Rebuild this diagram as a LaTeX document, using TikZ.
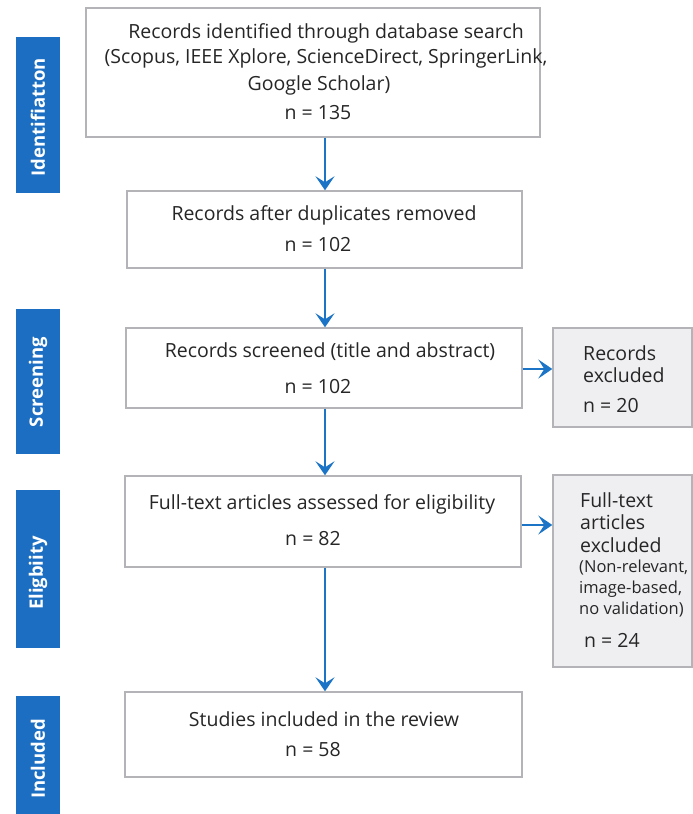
\documentclass[tikz,border=0pt]{standalone}
\usepackage{fontspec}
\setmainfont{Open Sans}
\usetikzlibrary{arrows.meta}
\definecolor{barblue}{HTML}{1B6EC2}
\definecolor{arrblue}{HTML}{1C74C6}
\definecolor{boxgray}{HTML}{B4B4B8}
\definecolor{exfill}{HTML}{EFEFF2}
\definecolor{txt}{HTML}{262626}
\begin{document}
\begin{tikzpicture}[x=1pt,y=-1pt,
  phasebar/.style={fill=barblue, draw=none, minimum width=44pt, inner sep=0pt},
  phasetext/.style={text=white, font=\fontsize{18.5}{22}\selectfont\bfseries, rotate=90},
  mainbox/.style={draw=boxgray, line width=1.4pt, fill=white, inner sep=0pt},
  exbox/.style={draw=boxgray, line width=1.4pt, fill=exfill, inner sep=0pt},
  bodytext/.style={text=txt, font=\fontsize{19.5}{23}\selectfont, inner sep=0pt},
  smalltext/.style={text=txt, font=\fontsize{16.5}{20}\selectfont, inner sep=0pt},
  flow/.style={draw=arrblue, line width=2.4pt, -{Stealth[length=14pt,width=19pt,inset=6pt]}}
]
\useasboundingbox (0,0) rectangle (693,814);
\fill[white] (0,0) rectangle (693,814);

% phase bars
\node[phasebar, minimum height=156pt] (pid) at (38,115) {};
\node[phasetext] (tid) at (38,117) {Identifiatton};
\node[phasebar, minimum height=145pt] (psc) at (38,381.5) {};
\node[phasetext] (tsc) at (38,382) {Screening};
\node[phasebar, minimum height=158pt] (pel) at (38,569) {};
\node[phasetext] (tel) at (38,573) {Eligbiity};
\node[phasebar, minimum height=124pt] (pin) at (38,758) {};
\node[phasetext] (tin) at (38,759) {Included};

% main boxes
\node[mainbox, minimum width=454pt, minimum height=129pt] (b1) at (313,72.5) {};
\node[mainbox, minimum width=395pt, minimum height=77pt] (b2) at (324.5,229.5) {};
\node[mainbox, minimum width=396pt, minimum height=80pt] (b3) at (324,368) {};
\node[mainbox, minimum width=396pt, minimum height=91pt] (b4) at (323,521.5) {};
\node[mainbox, minimum width=397pt, minimum height=85pt] (b5) at (323.5,734.5) {};

% exclusion boxes
\node[exbox, minimum width=139pt, minimum height=99pt] (r1) at (622.5,377.5) {};
\node[exbox, minimum width=139pt, minimum height=192pt] (r2) at (622.5,571) {};

% texts in main boxes
\node[bodytext] (t1a) at (326,33) {Records identified through database search};
\node[bodytext] (t1b) at (326,58) {(Scopus, IEEE Xplore, ScienceDirect, SpringerLink,};
\node[bodytext] (t1c) at (319,85) {Google Scholar)};
\node[bodytext] (t1d) at (318,113) {n = 135};
\node[bodytext] (t2a) at (324,215) {Records after duplicates removed};
\node[bodytext] (t2b) at (318,245) {n = 102};
\node[bodytext] (t3a) at (330,352) {Records screened (title and abstract)};
\node[bodytext] (t3b) at (318,387) {n = 102};
\node[bodytext] (t4a) at (322,504) {Full-text articles assessed for eligibility};
\node[bodytext] (t4b) at (313,539) {n = 82};
\node[bodytext] (t5a) at (324,719) {Studies included in the review};
\node[bodytext] (t5b) at (313,750) {n = 58};

% texts in exclusion boxes
\node[bodytext, anchor=west] (r1a) at (583,353) {Records};
\node[bodytext, anchor=west] (r1b) at (583,375) {excluded};
\node[bodytext, anchor=west] (r1c) at (583,406) {n = 20};
\node[bodytext, anchor=west] (r2a) at (580,500) {Full-text};
\node[bodytext, anchor=west] (r2b) at (580,522) {articles};
\node[bodytext, anchor=west] (r2c) at (580,545) {excluded};
\node[smalltext, anchor=west] (r2d) at (579,568) {(Non-relevant,};
\node[smalltext, anchor=west] (r2e) at (579,589) {image-based,};
\node[smalltext, anchor=west] (r2f) at (579,610) {no validation)};
\node[bodytext, anchor=west] (r2g) at (584,640) {n = 24};

% connectors
\coordinate (ax) at (325,0);
\draw[flow] (b1.south -| ax) -- (b2.north -| ax);
\draw[flow] (b2.south -| ax) -- (b3.north -| ax);
\draw[flow] (b3.south -| ax) -- (b4.north -| ax);
\draw[flow] (b4.south -| ax) -- (b5.north -| ax);
\coordinate (ey1) at (0,369);
\coordinate (ey2) at (0,525);
\draw[flow] (b3.east |- ey1) -- (r1.west |- ey1);
\draw[flow] (b4.east |- ey2) -- (r2.west |- ey2);
\end{tikzpicture}
\end{document}
